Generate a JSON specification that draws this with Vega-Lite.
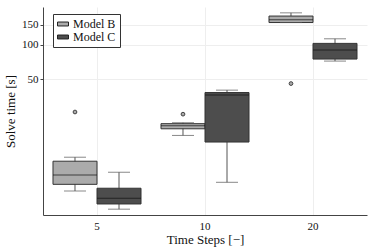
{
  "$schema": "https://vega.github.io/schema/vega-lite/v6.json",
  "width": 324,
  "height": 208,
  "autosize": {"type": "none"},
  "padding": {"left": 43, "top": 7, "right": 7, "bottom": 34},
  "background": "white",
  "config": {
    "font": "Liberation Serif",
    "view": {"stroke": null},
    "style": {
      "guide-label": {"font": "Liberation Serif", "fill": "#111"},
      "guide-title": {"font": "Liberation Serif", "fill": "#111"}
    },
    "legend": {"labelFont": "Liberation Serif", "labelFontSize": 12, "labelColor": "#111"},
    "axis": {
      "labelFont": "Liberation Serif",
      "titleFont": "Liberation Serif",
      "labelFontSize": 11,
      "titleFontSize": 13,
      "titleFontWeight": "normal",
      "labelColor": "#111",
      "titleColor": "#111",
      "domainColor": "#444",
      "gridColor": "#eeeeee",
      "tickColor": "#444",
      "tickSize": 3
    }
  },
  "datasets": {
    "stats": [
      {"steps": "5", "model": "Model B", "lower": 5.2, "q1": 5.95, "median": 7.2, "q3": 9.5, "upper": 10.3},
      {"steps": "5", "model": "Model C", "lower": 3.6, "q1": 4.0, "median": 4.5, "q3": 5.5, "upper": 7.6},
      {"steps": "10", "model": "Model B", "lower": 16.0, "q1": 18.3, "median": 19.5, "q3": 20.3, "upper": 20.7},
      {"steps": "10", "model": "Model C", "lower": 6.2, "q1": 14.0, "median": 36.2, "q3": 38.1, "upper": 40.0},
      {"steps": "20", "model": "Model B", "lower": 157, "q1": 157, "median": 166, "q3": 179, "upper": 191},
      {"steps": "20", "model": "Model C", "lower": 72, "q1": 75, "median": 90, "q3": 103, "upper": 113}
    ],
    "outliers": [
      {"steps": "5", "model": "Model B", "value": 25.7},
      {"steps": "10", "model": "Model B", "value": 24.6},
      {"steps": "20", "model": "Model B", "value": 45.7}
    ]
  },
  "encoding": {
    "x": {
      "field": "steps", "type": "nominal", "sort": ["5", "10", "20"],
      "scale": {"domain": ["5", "10", "20"], "paddingInner": 0, "paddingOuter": 0},
      "axis": {"title": "Time Steps [−]", "labelAngle": 0, "grid": true, "ticks": false, "labelPadding": 5, "titlePadding": 2}
    },
    "xOffset": {
      "field": "model", "type": "nominal",
      "scale": {"domain": ["Model B", "Model C"], "paddingInner": 0, "paddingOuter": 0.227}
    }
  },
  "layer": [
    {
      "data": {"name": "stats"},
      "mark": {"type": "rule", "color": "#555555", "strokeWidth": 1},
      "encoding": {
        "y": {
          "field": "lower", "type": "quantitative",
          "scale": {"type": "log", "domain": [3.2, 215], "nice": false},
          "axis": {"title": "Solve time [s]", "values": [50, 100, 150], "grid": true, "titlePadding": 4}
        },
        "y2": {"field": "upper"}
      }
    },
    {
      "data": {"name": "stats"},
      "mark": {"type": "bar", "stroke": "#333333", "strokeWidth": 1},
      "encoding": {
        "y": {"field": "q1", "type": "quantitative"},
        "y2": {"field": "q3"},
        "fill": {
          "field": "model", "type": "nominal",
          "scale": {"domain": ["Model B", "Model C"], "range": ["#ababab", "#4d4d4d"]},
          "legend": {
            "title": null,
            "orient": "none",
            "legendX": 10,
            "legendY": 7,
            "direction": "vertical",
            "strokeColor": "#333333",
            "fillColor": "white",
            "padding": 4,
            "symbolType": "M-1,-0.36H1V0.36H-1Z",
            "symbolSize": 121,
            "symbolStrokeColor": "#222222",
            "symbolStrokeWidth": 1,
            "symbolOpacity": 1,
            "labelFont": "Liberation Serif",
            "labelFontSize": 12,
            "labelColor": "#111",
            "rowPadding": 1,
            "labelOffset": 4
          }
        }
      }
    },
    {
      "data": {"name": "stats"},
      "mark": {"type": "tick", "color": "#111111", "size": 44, "thickness": 1},
      "encoding": {"y": {"field": "median", "type": "quantitative"}}
    },
    {
      "data": {"name": "stats"},
      "mark": {"type": "tick", "color": "#555555", "size": 22, "thickness": 1},
      "encoding": {"y": {"field": "lower", "type": "quantitative"}}
    },
    {
      "data": {"name": "stats"},
      "mark": {"type": "tick", "color": "#555555", "size": 22, "thickness": 1},
      "encoding": {"y": {"field": "upper", "type": "quantitative"}}
    },
    {
      "data": {"name": "outliers"},
      "mark": {"type": "point", "shape": "circle", "filled": true, "fill": "#aaaaaa", "stroke": "#444444", "strokeWidth": 1, "size": 14, "opacity": 1},
      "encoding": {"y": {"field": "value", "type": "quantitative"}}
    }
  ]
}
